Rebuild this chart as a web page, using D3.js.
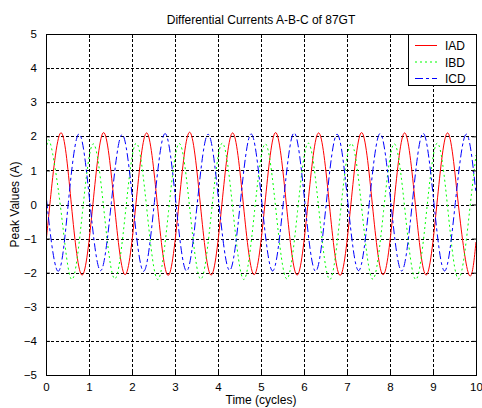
<!DOCTYPE html>
<html>
<head>
<meta charset="utf-8">
<script src="https://cdn.jsdelivr.net/npm/d3@7"></script>
<style>
  body { margin: 0; background: #fff; }
  text { font-family: "Liberation Sans", Arial, sans-serif; font-size: 11px; fill: #000; }
  .lbl { font-size: 12px; }
</style>
</head>
<body>
<div class="chart-box"></div>
<script>
// values: quarter-cycle points (peaks, troughs, mid-crossings)
const iadT = [0, 0.09, 0.34, 0.59, 0.84, 1.09, 1.34, 1.59, 1.84, 2.09, 2.34, 2.59, 2.84,
  3.09, 3.34, 3.59, 3.84, 4.09, 4.34, 4.59, 4.84, 5.09, 5.34, 5.59, 5.84,
  6.09, 6.34, 6.59, 6.84, 7.09, 7.34, 7.59, 7.84, 8.09, 8.34, 8.59, 8.84,
  9.09, 9.34, 9.59, 9.84, 10];
const iadV = [-1.1, 0, 2.1, 0, -2.07, 0, 2.11, 0, -2.06, 0, 2.1, 0, -2.08,
  0, 2.12, 0, -2.07, 0, 2.1, 0, -2.06, 0, 2.11, 0, -2.07,
  0, 2.1, 0, -2.08, 0, 2.11, 0, -2.06, 0, 2.1, 0, -2.07,
  0, 2.1, 0, -2.07, -1.1];

const ibdT = [0, 0.1, 0.35, 0.6, 0.85, 1.1, 1.35, 1.6, 1.85, 2.1, 2.35, 2.6, 2.85,
  3.1, 3.35, 3.6, 3.85, 4.1, 4.35, 4.6, 4.85, 5.1, 5.35, 5.6, 5.85,
  6.1, 6.35, 6.6, 6.85, 7.1, 7.35, 7.6, 7.85, 8.1, 8.35, 8.6, 8.85,
  9.1, 9.35, 9.6, 9.85, 10];
const ibdV = [1.45, 1.8, -0.2, -2.2, -0.2, 1.78, -0.2, -2.18, -0.2, 1.8, -0.2, -2.2, -0.2,
  1.79, -0.2, -2.19, -0.2, 1.8, -0.2, -2.2, -0.2, 1.78, -0.2, -2.18, -0.2,
  1.8, -0.2, -2.2, -0.2, 1.79, -0.2, -2.19, -0.2, 1.78, -0.2, -2.2, -0.2,
  1.8, -0.2, -2.18, -0.2, 1.45];

const icdT = [0, 0.02, 0.27, 0.52, 0.77, 1.02, 1.27, 1.52, 1.77, 2.02, 2.27, 2.52, 2.77,
  3.02, 3.27, 3.52, 3.77, 4.02, 4.27, 4.52, 4.77, 5.02, 5.27, 5.52, 5.77,
  6.02, 6.27, 6.52, 6.77, 7.02, 7.27, 7.52, 7.77, 8.02, 8.27, 8.52, 8.77,
  9.02, 9.27, 9.52, 9.77, 10];
const icdV = [0.32, 0.06, -1.95, 0.06, 2.07, 0.06, -1.94, 0.06, 2.05, 0.06, -1.96, 0.06, 2.08,
  0.06, -1.95, 0.06, 2.06, 0.06, -1.93, 0.06, 2.07, 0.06, -1.95, 0.06, 2.1,
  0.06, -1.96, 0.06, 2.06, 0.06, -1.94, 0.06, 2.08, 0.06, -1.95, 0.06, 2.09,
  0.06, -1.95, 0.06, 2.06, 0.32];

const seriesNames = ["IAD", "IBD", "ICD"];
const xTicks = [0, 1, 2, 3, 4, 5, 6, 7, 8, 9, 10];
const yTicks = [-5, -4, -3, -2, -1, 0, 1, 2, 3, 4, 5];

const series = [
  {name: seriesNames[0], t: iadT, v: iadV, color: "#ff0000", dash: null},
  {name: seriesNames[1], t: ibdT, v: ibdV, color: "#00ff00", dash: "2,3"},
  {name: seriesNames[2], t: icdT, v: icdV, color: "#0000ff", dash: "8,3,3,3"}
];

const W = 482, H = 408;
const margin = {top: 34, right: 6, bottom: 33, left: 46};
const width = W - margin.left - margin.right,
  height = H - margin.top - margin.bottom;

const svg = d3.select(".chart-box").append("svg")
  .attr("width", W)
  .attr("height", H);

const g = svg.append("g")
  .attr("transform", "translate(" + margin.left + "," + margin.top + ")");

const x = d3.scaleLinear().domain([0, 10]).range([0, width]);
const y = d3.scaleLinear().domain([-5, 5]).range([height, 0]);

svg.append("defs").append("clipPath").attr("id", "plot-clip")
  .append("rect").attr("width", width).attr("height", height);

// dashed grid
g.append("g").selectAll("line")
  .data(xTicks.slice(1, -1))
  .enter().append("line")
  .attr("x1", d => Math.round(x(d)) + 0.5).attr("x2", d => Math.round(x(d)) + 0.5)
  .attr("y1", 0).attr("y2", height)
  .attr("stroke", "#000").attr("stroke-dasharray", "3,2");

g.append("g").selectAll("line")
  .data(yTicks.slice(1, -1))
  .enter().append("line")
  .attr("y1", d => Math.round(y(d)) + 0.5).attr("y2", d => Math.round(y(d)) + 0.5)
  .attr("x1", 0).attr("x2", width)
  .attr("stroke", "#000").attr("stroke-dasharray", "3,2");

// curves
const line = d3.line()
  .x(d => x(d[0]))
  .y(d => y(d[1]))
  .curve(d3.curveNatural);

g.append("g").attr("clip-path", "url(#plot-clip)")
  .selectAll("path")
  .data(series)
  .enter().append("path")
  .attr("d", s => line(s.t.map((t, i) => [t, s.v[i]])))
  .attr("fill", "none")
  .attr("stroke", s => s.color)
  .attr("stroke-width", 1)
  .attr("stroke-dasharray", s => s.dash);

// axes, ticks inside on all four sides
const tickLen = 4;
const xAxis = d3.axisBottom(x).tickValues(xTicks).tickSize(-tickLen).tickPadding(8);
const yAxis = d3.axisLeft(y).tickValues(yTicks).tickSize(-tickLen).tickPadding(9);

g.append("g").attr("transform", "translate(0," + height + ")").call(xAxis);
g.append("g").call(yAxis);
g.append("g").call(d3.axisTop(x).tickValues(xTicks).tickSize(-tickLen).tickFormat(""));
g.append("g").attr("transform", "translate(" + width + ",0)")
  .call(d3.axisRight(y).tickValues(yTicks).tickSize(-tickLen).tickFormat(""));

g.selectAll(".domain").remove();
g.selectAll(".tick line").attr("stroke", "#000");
g.selectAll(".tick text").style("font-size", "11.5px").attr("fill", "#000");

g.append("rect")
  .attr("x", 0.5).attr("y", 0.5)
  .attr("width", width).attr("height", height)
  .attr("fill", "none").attr("stroke", "#000");

// title and axis labels
svg.append("text")
  .attr("class", "lbl")
  .attr("x", margin.left + width / 2).attr("y", 24)
  .attr("text-anchor", "middle")
  .text("Differential Currents A-B-C of 87GT");

svg.append("text")
  .attr("class", "lbl")
  .attr("x", margin.left + width / 2).attr("y", 404)
  .attr("text-anchor", "middle")
  .text("Time (cycles)");

svg.append("text")
  .attr("class", "lbl")
  .attr("transform", "translate(19," + (margin.top + height / 2) + ") rotate(-90)")
  .attr("text-anchor", "middle")
  .text("Peak Values (A)");

// legend
const legend = g.append("g").attr("transform", "translate(" + (width - 68) + ",0)");
legend.append("rect")
  .attr("x", 0.5).attr("y", 0.5).attr("width", 68).attr("height", 51)
  .attr("fill", "#fff").attr("stroke", "#000");

const item = legend.selectAll(".item")
  .data(series)
  .enter().append("g")
  .attr("class", "item")
  .attr("transform", (s, i) => "translate(0," + (11.5 + i * 16.5) + ")");

item.append("line")
  .attr("x1", 7).attr("x2", 29)
  .attr("stroke", s => s.color)
  .attr("stroke-dasharray", s => s.dash);

item.append("text")
  .attr("class", "lbl")
  .attr("x", 37).attr("y", 4.5)
  .text(s => s.name);
</script>
</body>
</html>
